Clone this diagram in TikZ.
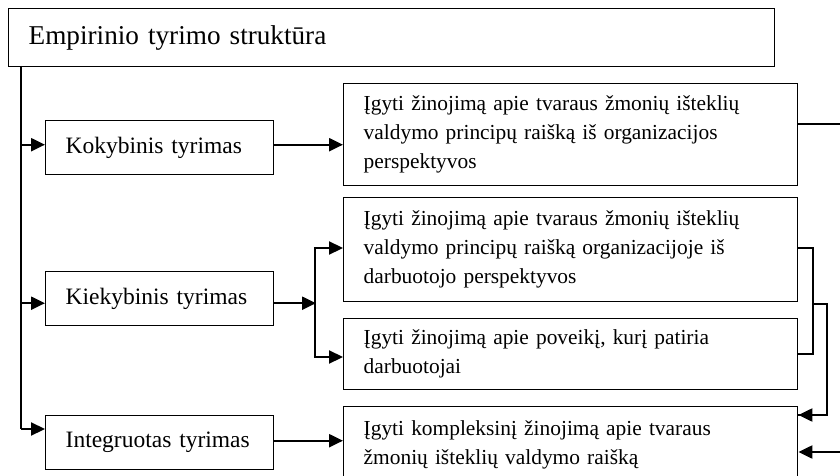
\documentclass[tikz,border=0pt]{standalone}
\usepackage{fontspec}
\setmainfont{Liberation Serif}
\usepackage{tikz}
\usetikzlibrary{positioning}
\usetikzlibrary{arrows.meta}

\begin{document}
\begin{tikzpicture}[x=1pt,y=-1pt,
	box/.style={draw,rectangle,line width=1.4pt,anchor=north west,inner sep=0pt},
	goal/.style={box,minimum width=454pt,align=left,text width=414pt,font=\fontsize{21.4}{29}\selectfont},
	kind/.style={box,minimum width=228pt,minimum height=54pt,align=left,text width=188pt,font=\fontsize{23.5}{27}\selectfont},
	link/.style={-{Triangle[length=14pt,width=13pt]},line width=2.2pt},
	line/.style={line width=2.2pt}]
	
	\clip (0,0) rectangle (840,476);
	\fill[white] (0,0) rectangle (840,476);
	
	% title
	\node[box,minimum width=766pt,minimum height=58pt,align=left,text width=726pt,font=\fontsize{27.2}{32}\selectfont] (top) at (8,8) {Empirinio tyrimo struktūra};
	
	% kinds of research
	\node[kind] (kok) at (45,120) {Kokybinis tyrimas};
	\node[kind] (kiek) at (45,271) {Kiekybinis tyrimas};
	\node[kind] (integ) at (45,415) {Integruotas tyrimas};
	
	% goals
	\node[goal,minimum height=102pt] (g1) at (343,83) {Įgyti žinojimą apie tvaraus žmonių išteklių\\ valdymo principų raišką iš organizacijos\\ perspektyvos};
	\node[goal,minimum height=104pt] (g2) at (343,197) {Įgyti žinojimą apie tvaraus žmonių išteklių\\ valdymo principų raišką organizacijoje iš\\ darbuotojo perspektyvos};
	\node[goal,minimum height=71pt] (g3) at (343,318) {Įgyti žinojimą apie poveikį, kurį patiria\\ darbuotojai};
	\node[goal,minimum height=76pt] (g4) at (343,406) {Įgyti kompleksinį žinojimą apie tvaraus\\ žmonių išteklių valdymo raišką};
	
	%trunk
	\coordinate (t0) at (21,66);
	\coordinate (t1) at (21,429);
	\draw[line width=1.1pt] (t0) -- (t1);
	\draw[link] ([yshift=3pt]kok.west -| t0) -- ([yshift=3pt]kok.west);
	\draw[link] ([yshift=-4.5pt]kiek.west -| t0) -- ([yshift=-4.5pt]kiek.west);
	\draw[link] (t1) -- (t1 -| integ.west);
	
	%to goals
	\draw[link] ([yshift=3pt]kok.east) -- ([yshift=3pt]kok.east -| g1.west);
	\coordinate (split) at ([yshift=-4.5pt]kiek.east -| 315,0);
	\coordinate (s1) at (315,248);
	\coordinate (s2) at (315,357);
	\draw[link] ([yshift=-4.5pt]kiek.east) -- ([xshift=1pt]split);
	\draw[line] (s1) -- (s2);
	\draw[link] ([xshift=-1.1pt]s1) -- (s1 -| g2.west);
	\draw[link] ([xshift=-1.1pt]s2) -- (s2 -| g3.west);
	\draw[link] ([yshift=2pt]integ.east) -- ([yshift=2pt]integ.east -| g4.west);
	
	% back to integrated goal
	\coordinate (r1) at (813,248);
	\coordinate (r2) at (827,304);
	\draw[line] (g2.east |- r1) -- (r1) -- (r1 |- g3.east) -- (g3.east);
	\draw[line] (r1 |- r2) -- (r2) |- ([yshift=-9pt]g4.north east) coordinate (r3);
	\draw[link] ([xshift=-1.1pt]r2 |- r3) -- (r3);
	\coordinate (r4) at (846,124);
	\coordinate (r5) at (846,452);
	\draw[line] (g1.east |- r4) -- (r4) -- (r5);
	\draw[link] (r5) -- (g4.east |- r5);
	
\end{tikzpicture}
\end{document}
